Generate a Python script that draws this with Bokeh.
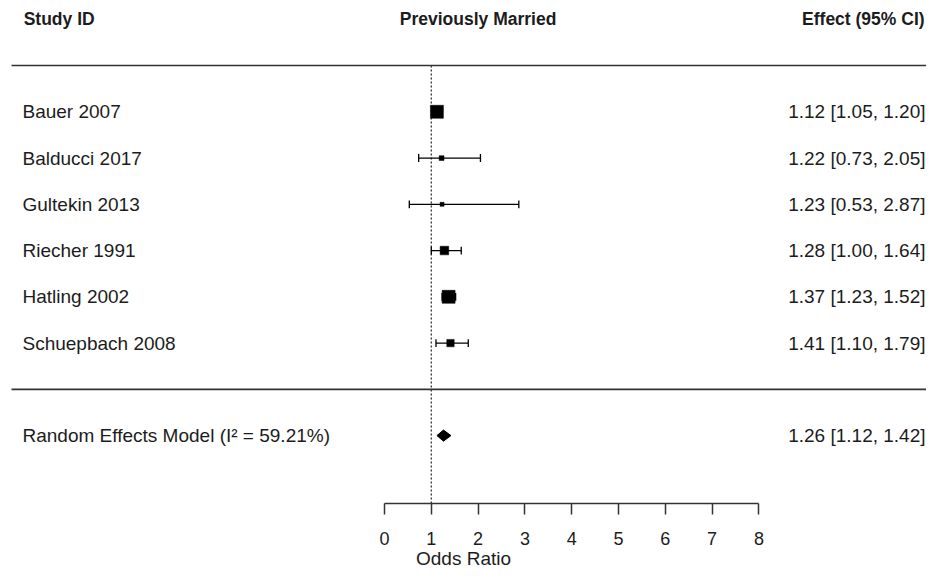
from bokeh.plotting import figure
from bokeh.models import Range1d, FixedTicker, ColumnDataSource
from bokeh.core.properties import value
from bokeh.embed import file_html
from bokeh.resources import INLINE

# ---- data ----
studies = ["Bauer  2007", "Balducci  2017", "Gultekin  2013",
           "Riecher  1991", "Hatling  2002", "Schuepbach 2008"]
or_est = [1.12, 1.22, 1.23, 1.28, 1.37, 1.41]
ci_lo = [1.05, 0.73, 0.53, 1.00, 1.23, 1.10]
ci_hi = [1.20, 2.05, 2.87, 1.64, 1.52, 1.79]
weights = [30.0, 6.0, 3.5, 17.0, 30.0, 13.5]
re_label = "Random Effects Model (I\u00b2 = 59.21%)"
re_est, re_lo, re_hi = 1.26, 1.12, 1.42
tick_values = [0, 1, 2, 3, 4, 5, 6, 7, 8]
headers = ["Study ID", "Previously Married", "Effect (95% CI)"]
x_label = "Odds Ratio"

FONT = value("Liberation Sans")
INK = "#1c1c1c"

rows = list(range(len(studies)))
re_row = len(studies) + 1
wmin, wmax = min(weights), max(weights)
sizes = [4 + 9 * (w - wmin) / (wmax - wmin) for w in weights]
effect_txt = [f"{e:.2f} [{l:.2f}, {h:.2f}]" for e, l, h in zip(or_est, ci_lo, ci_hi)]

Y_BOTTOM = 8.468
p = figure(width=926, height=571, output_backend="svg", toolbar_location=None,
           x_range=Range1d(-8.205, 11.581), y_range=Range1d(Y_BOTTOM, -2.406),
           y_axis_location=None, min_border=0, min_border_bottom=67,
           outline_line_color=None, background_fill_color="white",
           border_fill_color="white")
p.xgrid.visible = False
p.ygrid.visible = False

# axis
ax = p.xaxis[0]
ax.ticker = FixedTicker(ticks=tick_values)
ax.bounds = (tick_values[0], tick_values[-1])
ax.major_tick_out = 11
ax.major_tick_in = 0
ax.minor_tick_out = 0
ax.minor_tick_in = 0
ax.axis_line_width = 1.5
ax.axis_line_color = "#333333"
ax.major_tick_line_width = 1.5
ax.major_tick_line_color = "#333333"
ax.major_label_text_font = "Liberation Sans"
ax.major_label_text_font_size = "18px"
ax.major_label_text_color = INK
ax.major_label_standoff = 17
ax.axis_label = x_label
ax.axis_label_text_font = "Liberation Sans"
ax.axis_label_text_font_style = "normal"
ax.axis_label_text_font_size = "19px"
ax.axis_label_text_color = INK
ax.axis_label_standoff = 0

# separator lines
p.segment(x0=[-7.97, -7.97], x1=[12.0, 12.0], y0=[-1, len(studies)], y1=[-1, len(studies)],
          line_color="#333333", line_width=1.6)
# reference line at OR = 1
p.segment(x0=[1], x1=[1], y0=[-1], y1=[Y_BOTTOM], line_color="#333333",
          line_width=1.3, line_dash="2 2")

# whiskers and caps
src = ColumnDataSource(dict(y=rows, est=or_est, lo=ci_lo, hi=ci_hi, size=sizes,
                            name=studies, eff=effect_txt))
p.segment(x0="lo", x1="hi", y0="y", y1="y", source=src, line_color="black", line_width=1.3)
cap = 0.085
p.segment(x0=ci_lo, x1=ci_lo, y0=[r - cap for r in rows], y1=[r + cap for r in rows],
          line_color="black", line_width=1.3)
p.segment(x0=ci_hi, x1=ci_hi, y0=[r - cap for r in rows], y1=[r + cap for r in rows],
          line_color="black", line_width=1.3)
p.scatter(x="est", y="y", size="size", marker="square", source=src,
          fill_color="black", line_color="black", line_width=0.5)

# pooled diamond
h = 0.12
p.patch(x=[re_lo, re_est, re_hi, re_est], y=[re_row, re_row - h, re_row, re_row + h],
        fill_color="black", line_color="black", line_width=1)

# texts
X_LEFT = -7.735
X_RIGHT = 11.56
p.text(x=X_LEFT, y="y", text="name", source=src, text_font=FONT, text_font_size="19px",
       text_baseline="middle", text_align="left", text_color=INK)
p.text(x=X_RIGHT, y="y", text="eff", source=src, text_font=FONT, text_font_size="19px",
       text_baseline="middle", text_align="right", text_color=INK)
p.text(x=[X_LEFT], y=[re_row], text=[re_label], text_font=FONT, text_font_size="19px",
       text_baseline="middle", text_align="left", text_color=INK)
p.text(x=[X_RIGHT], y=[re_row], text=[f"{re_est:.2f} [{re_lo:.2f}, {re_hi:.2f}]"],
       text_font=FONT, text_font_size="19px", text_baseline="middle",
       text_align="right", text_color=INK)

# headers
p.text(x=[-7.71], y=[-2], text=[headers[0]], text_font=FONT, text_font_size="17.5px",
       text_font_style="bold", text_baseline="middle", text_align="left", text_color=INK)
p.text(x=[2.0], y=[-2], text=[headers[1]], text_font=FONT, text_font_size="17.5px",
       text_font_style="bold", text_baseline="middle", text_align="center", text_color=INK)
p.text(x=[X_RIGHT - 0.02], y=[-2], text=[headers[2]], text_font=FONT, text_font_size="17.5px",
       text_font_style="bold", text_baseline="middle", text_align="right", text_color=INK)

open("out.html", "w").write(file_html(p, INLINE))
